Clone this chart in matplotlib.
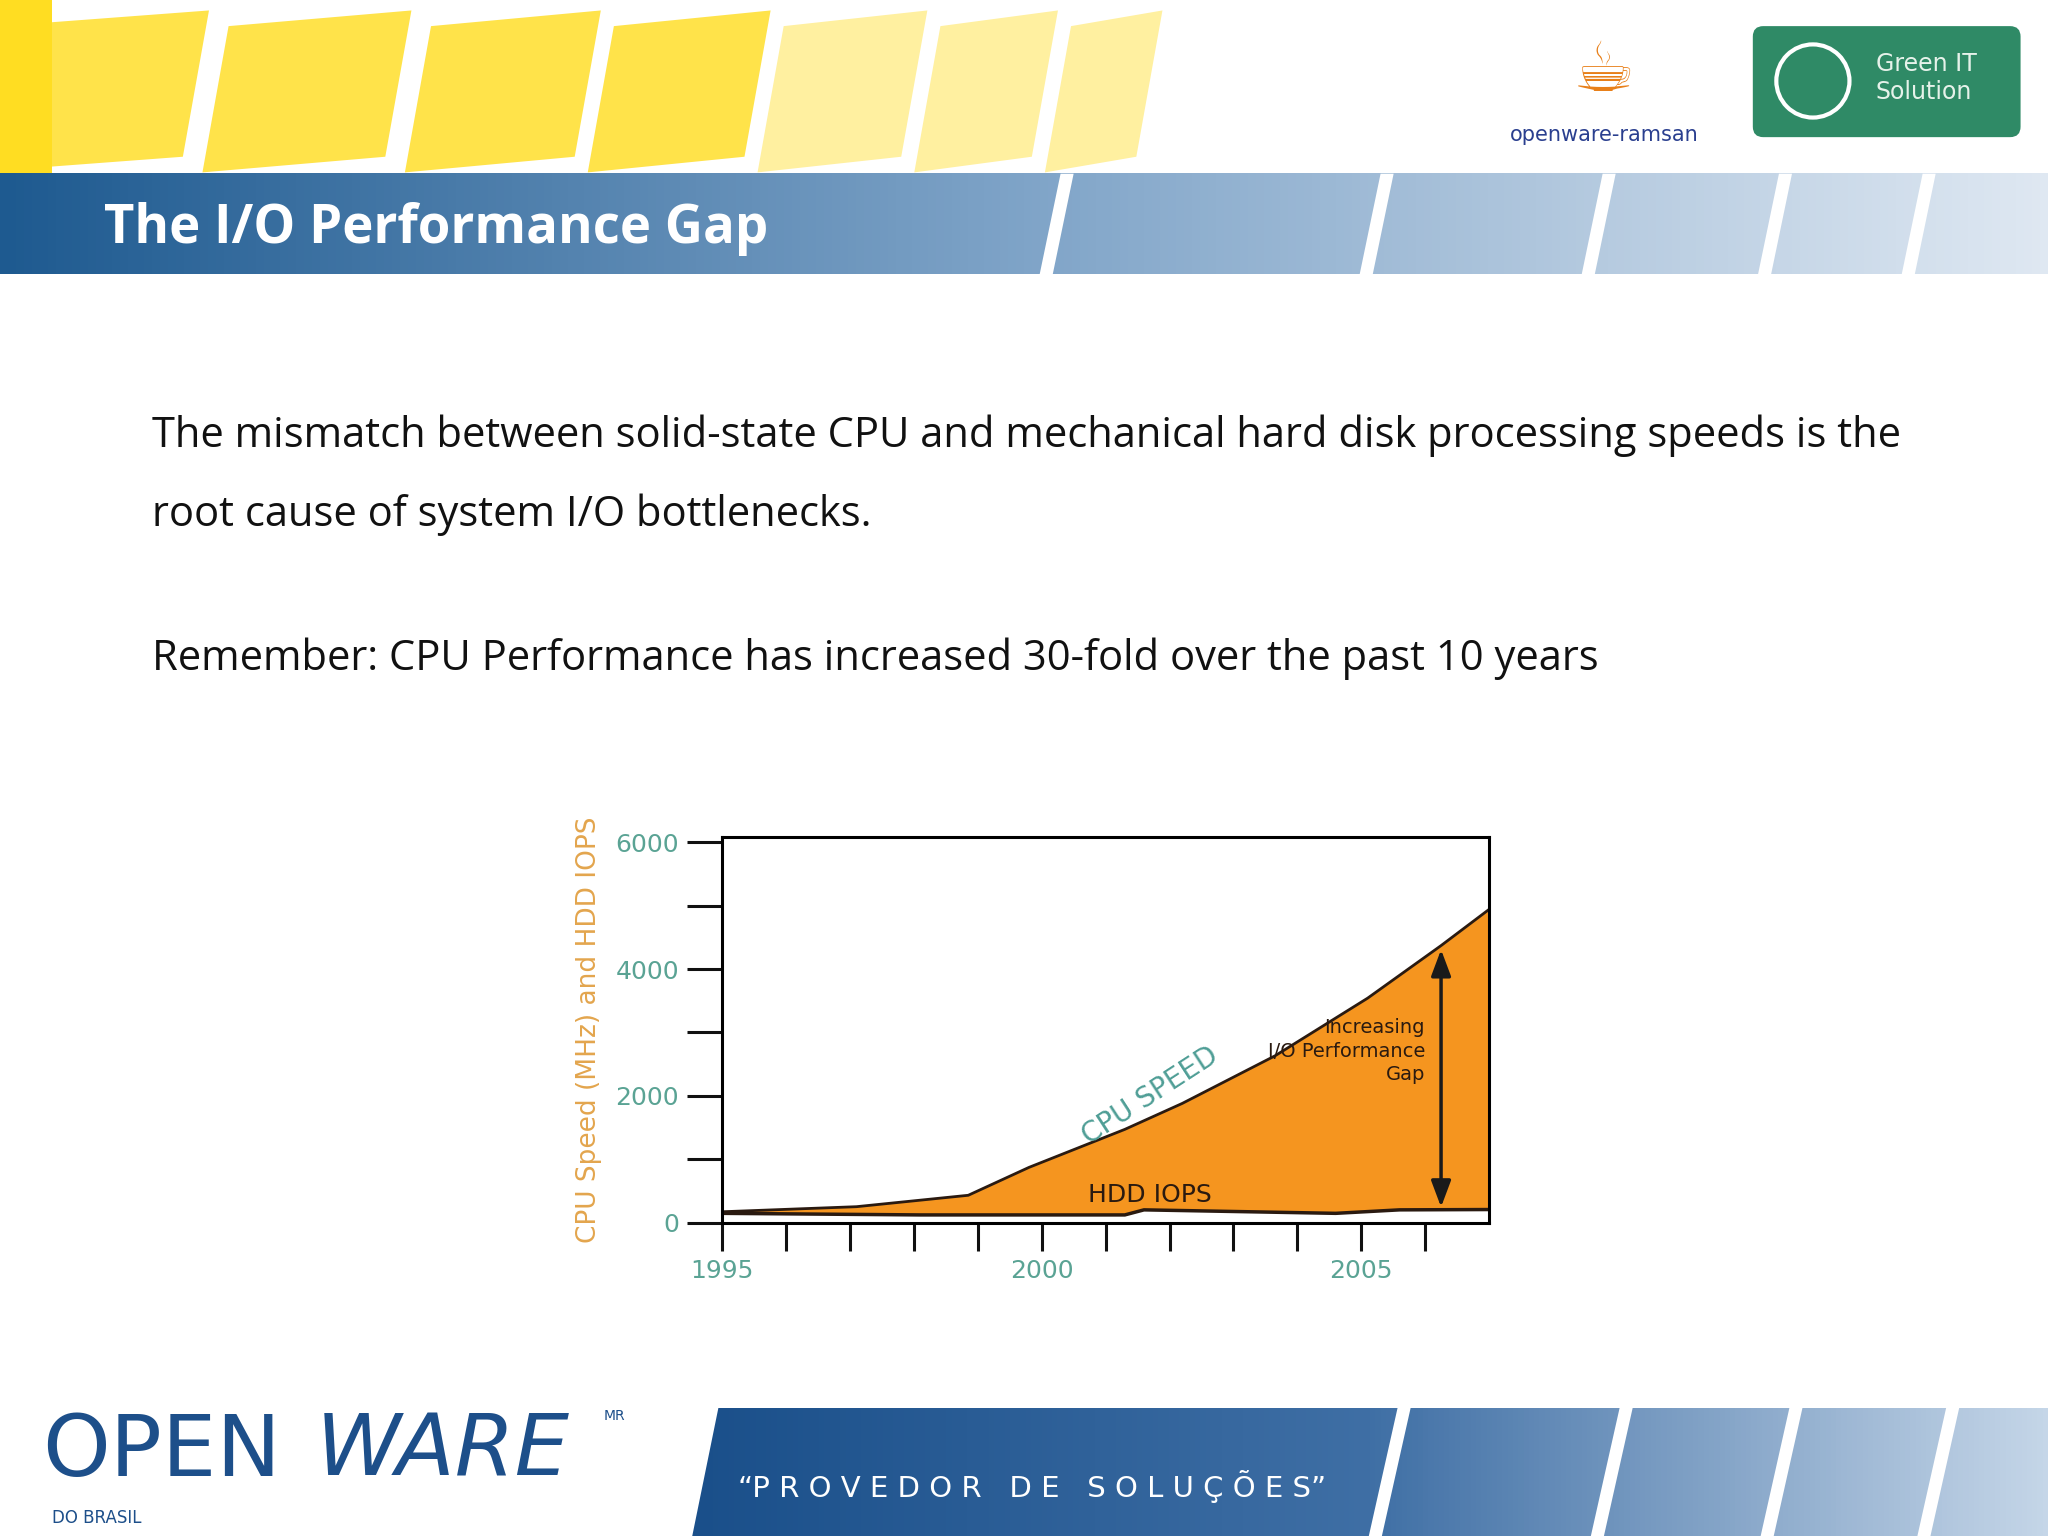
import matplotlib
matplotlib.use("Agg")
import matplotlib.pyplot as plt
from matplotlib.patches import Polygon, Rectangle, FancyBboxPatch
import numpy as np

years_cpu = [1995, 1997.1, 1998.85, 1999.8, 2001.3, 2002.2, 2003.65, 2005.1, 2006.25, 2007]
cpu_speed = [170, 250, 430, 870, 1470, 1880, 2630, 3540, 4370, 4940]
years_hdd = [1995, 1998.1, 2001.3, 2001.6, 2004.6, 2005.6, 2007]
hdd_iops = [145, 120, 120, 200, 145, 200, 205]
yticks = [0, 1000, 2000, 3000, 4000, 5000, 6000]
ylabels = ["0", "", "2000", "", "4000", "", "6000"]
xticks = list(range(1995, 2007))
xlabels = {1995: "1995", 2000: "2000", 2005: "2005"}

fig = plt.figure(figsize=(20.48, 15.36), dpi=100)
bg = fig.add_axes([0, 0, 1, 1])
bg.set_xlim(0, 1568); bg.set_ylim(1176, 0); bg.axis("off")

for x0, w in [(0, 160), (175, 140), (330, 130), (470, 120), (600, 110), (720, 90), (820, 70)]:
    bg.add_patch(Polygon([[x0, 20], [x0 + w, 8], [x0 + w - 20, 120], [x0 - 20, 132]], closed=True,
                         color="#ffe34a" if x0 < 500 else "#fff0a0", lw=0))
bg.add_patch(Rectangle((0, 0), 40, 133, color="#ffdd22", lw=0))
grad = np.linspace(0, 1, 256)[None, :]
bg.imshow(grad, extent=[0, 1568, 210, 133], cmap=matplotlib.colors.LinearSegmentedColormap.from_list(
    "b", ["#1e5a90", "#7fa4c8", "#dfe8f2"]), aspect="auto", zorder=1)
for xs in [800, 1045, 1215, 1350, 1460]:
    bg.add_patch(Polygon([[xs + 12, 133], [xs + 22, 133], [xs + 6, 210], [xs - 4, 210]], color="white", lw=0, zorder=2))
bg.text(80, 175, "The I/O Performance Gap", color="white", fontsize=38, fontweight="bold",
        family="Open Sans", va="center", zorder=3)
bg.text(1228, 103, "openware-ramsan", color="#2a3f8f", fontsize=15, ha="center", va="center", family="DejaVu Sans")
bg.text(1228, 55, "☕", color="#e8801a", fontsize=50, ha="center", va="center", family="DejaVu Sans")
bg.add_patch(FancyBboxPatch((1342, 20), 205, 85, boxstyle="round,pad=0,rounding_size=8", color="#2f8a66", lw=0))
bg.text(1436, 60, "Green IT\nSolution", color="#e6f2ea", fontsize=17, va="center", family="DejaVu Sans", linespacing=1.2)
bg.add_patch(plt.Circle((1388, 62), 28, fill=False, ec="white", lw=3))

tx = dict(fontsize=30, family="Open Sans", color="#111111", va="center")
bg.text(116, 334, "The mismatch between solid-state CPU and mechanical hard disk processing speeds is the", **tx)
bg.text(116, 394, "root cause of system I/O bottlenecks.", **tx)
bg.text(116, 504, "Remember: CPU Performance has increased 30-fold over the past 10 years", **tx)

bg.imshow(grad, extent=[530, 1568, 1176, 1078], cmap=matplotlib.colors.LinearSegmentedColormap.from_list(
    "f", ["#1a4f8a", "#3f6fa5", "#c5d6e8"]), aspect="auto", zorder=1)
bg.add_patch(Polygon([[510, 1078], [550, 1078], [530, 1176], [490, 1176]], color="white", lw=0, zorder=2))
for xs in [1060, 1230, 1360, 1480]:
    bg.add_patch(Polygon([[xs + 10, 1078], [xs + 20, 1078], [xs - 2, 1176], [xs - 12, 1176]], color="white", lw=0, zorder=2))
bg.text(565, 1138, "“P R O V E D O R   D E   S O L U Ç Õ E S”", color="white", fontsize=21,
        family="DejaVu Sans", va="center", zorder=3)
bg.text(32, 1112, "OPEN", color="#1d4f8a", fontsize=62, va="center", family="DejaVu Sans")
bg.text(242, 1112, "WARE", color="#1d4f8a", fontsize=62, va="center", family="DejaVu Sans", style="italic")
bg.text(40, 1162, "DO BRASIL", color="#1d4f8a", fontsize=12, va="center")
bg.text(462, 1084, "MR", color="#1d4f8a", fontsize=10, va="center")

ax = fig.add_axes([553 / 1568, 1 - 936 / 1176, (1140 - 553) / 1568, (936 - 641) / 1176])
ax.set_xlim(1995, 2007); ax.set_ylim(0, 6080)
ax.fill_between(years_cpu, cpu_speed, color="#f5951f", lw=0)
ax.plot(years_cpu, cpu_speed, color="#2a1a10", lw=2)
ax.fill_between(years_hdd, hdd_iops, color="white", lw=0)
ax.plot(years_hdd, hdd_iops, color="#2a1a10", lw=2.5)
for s in ax.spines.values():
    s.set_linewidth(2.2)
ax.set_yticks(yticks); ax.set_yticklabels(ylabels)
ax.set_xticks(xticks); ax.set_xticklabels([xlabels.get(x, "") for x in xticks])
ax.tick_params(axis="y", length=25, width=2.2, colors="#111111", labelcolor="#5aa394", labelsize=18, pad=6)
ax.tick_params(axis="x", length=20, width=2.2, colors="#111111", labelcolor="#5aa394", labelsize=18, pad=6)
ax.set_ylabel("CPU Speed (MHz) and HDD IOPS", color="#e3a54d", fontsize=19, labelpad=10)
ax.text(2001.7, 2000, "CPU SPEED", rotation=33, color="#4f9e96", fontsize=20, ha="center", va="center")
ax.text(2001.7, 430, "HDD IOPS", color="#2a1a10", fontsize=18, ha="center", va="center")
ax.text(2006.0, 2700, "Increasing\nI/O Performance\nGap", color="#2a1a10", fontsize=14, ha="right",
        va="center", linespacing=1.3)
ax.annotate("", xy=(2006.25, 4350), xytext=(2006.25, 200),
            arrowprops=dict(arrowstyle="<|-|>,head_length=1.6,head_width=0.6", color="#1a1a1a", lw=2.5))

fig.savefig("out.png", dpi=100)
